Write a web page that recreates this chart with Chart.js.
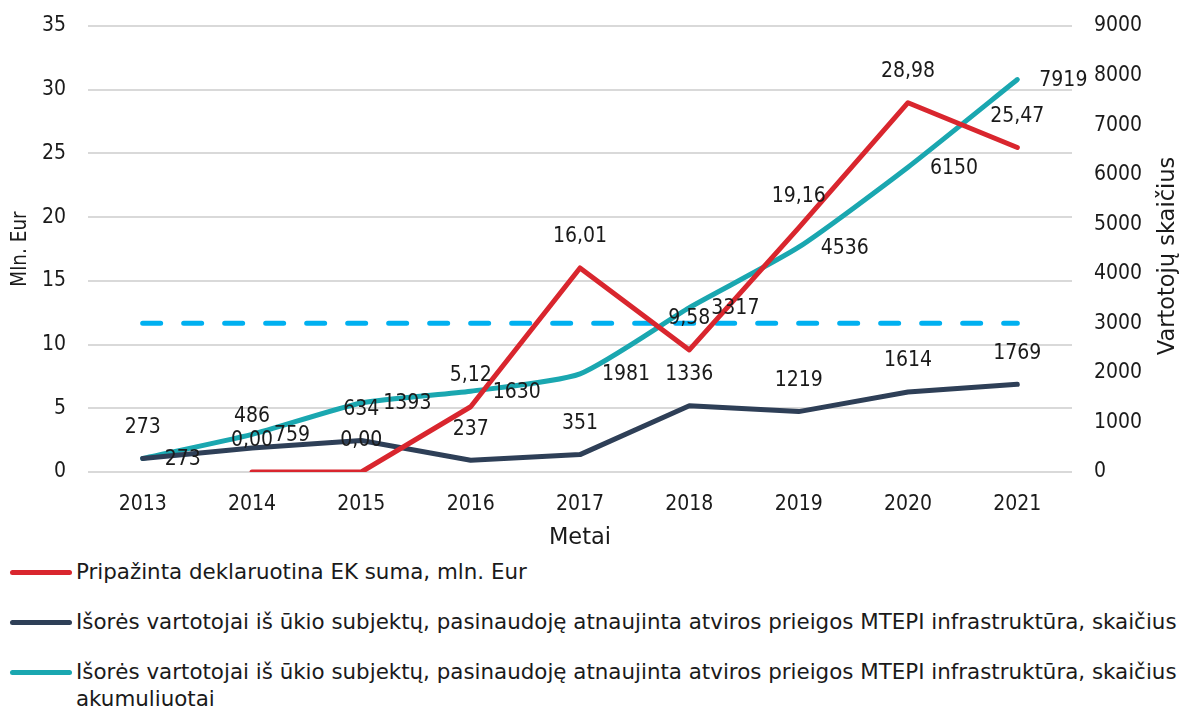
<!DOCTYPE html>
<html>
<head>
<meta charset="utf-8">
<script src="https://cdn.jsdelivr.net/npm/chart.js@4"></script>
<style>
  html, body { margin: 0; padding: 0; background: #fff; }
  body { width: 1180px; height: 708px; position: relative; overflow: hidden;
         font-family: "DejaVu Sans Condensed", "DejaVu Sans", sans-serif; color: #1a1a1a; }
  #wrap { position: absolute; left: 0; top: 0; width: 1180px; height: 555px; }
  #legend { position: absolute; left: 10px; top: 558px; width: 1170px; font-size: 21.4px;
            font-family: "DejaVu Sans", sans-serif; }
  .row { display: flex; align-items: flex-start; margin-bottom: 23px; line-height: 27px; }
  .swatch { flex: 0 0 62px; height: 5px; border-radius: 3px; margin-top: 12px; margin-right: 4px; }
</style>
</head>
<body>
<div id="wrap"><canvas id="chart"></canvas></div>
<div id="legend"></div>
<script>
const years = ['2013', '2014', '2015', '2016', '2017', '2018', '2019', '2020', '2021'];
const ecSum = [null, 0, 0, 5.12, 16.01, 9.58, 19.16, 28.98, 25.47];
const usersYearly = [273, 486, 634, 237, 351, 1336, 1219, 1614, 1769];
const usersCumulative = [273, 759, 1393, 1630, 1981, 3317, 4536, 6150, 7919];
const targetLine = [3000, 3000, 3000, 3000, 3000, 3000, 3000, 3000, 3000];

const seriesNames = [
  'Pripažinta deklaruotina EK suma, mln. Eur',
  'Išorės vartotojai iš ūkio subjektų, pasinaudoję atnaujinta atviros prieigos MTEPI infrastruktūra, skaičius',
  'Išorės vartotojai iš ūkio subjektų, pasinaudoję atnaujinta atviros prieigos MTEPI infrastruktūra, skaičius akumuliuotai'
];
const colors = ['#d9262e', '#2e3f57', '#1aa7b0'];
const rightTitle = 'Vartotojų skaičius';

const FONT = '"DejaVu Sans Condensed", "DejaVu Sans", sans-serif';
const WIDE = '"DejaVu Sans", sans-serif';
Chart.defaults.font.family = FONT;
Chart.defaults.color = '#1a1a1a';

// draws the value labels next to each point (no datalabels plugin available)
const pointLabels = {
  id: 'pointLabels',
  afterDatasetsDraw(chart) {
    const ctx = chart.ctx;
    ctx.save();
    ctx.font = '21px ' + FONT;
    ctx.fillStyle = '#1a1a1a';
    ctx.textBaseline = 'middle';
    chart.data.datasets.forEach((ds, i) => {
      if (!ds.labelPos) return;
      const meta = chart.getDatasetMeta(i);
      meta.data.forEach((pt, j) => {
        const v = ds.data[j];
        if (v == null) return;
        const txt = ds.fmt(v);
        if (ds.labelPos === 'right') {
          ctx.textAlign = 'left';
          ctx.fillText(txt, pt.x + 22, pt.y + 1);
        } else {
          ctx.textAlign = 'center';
          ctx.fillText(txt, pt.x, pt.y - 31);
        }
      });
    });
    // right axis title reads bottom-to-top like the left one
    ctx.translate(1168, 256);
    ctx.rotate(-Math.PI / 2);
    ctx.font = '22.5px ' + WIDE;
    ctx.textAlign = 'center';
    ctx.fillText(rightTitle, 0, 0);
    ctx.restore();
  }
};

const comma2 = v => v.toFixed(2).replace('.', ',');
const whole = v => String(v);

new Chart(document.getElementById('chart'), {
  type: 'line',
  data: {
    labels: years,
    datasets: [
      {
        label: seriesNames[0], data: ecSum, yAxisID: 'y',
        borderColor: colors[0], borderWidth: 5, tension: 0,
        labelPos: 'top', fmt: comma2
      },
      {
        label: seriesNames[1], data: usersYearly, yAxisID: 'y1',
        borderColor: colors[1], borderWidth: 5, tension: 0,
        labelPos: 'top', fmt: whole
      },
      {
        label: seriesNames[2], data: usersCumulative, yAxisID: 'y1',
        borderColor: colors[2], borderWidth: 5, tension: 0.2,
        labelPos: 'right', fmt: whole
      },
      {
        label: 'target', data: targetLine, yAxisID: 'y1',
        borderColor: '#00b0f0', borderWidth: 5, borderDash: [18, 23],
        borderCapStyle: 'round'
      }
    ]
  },
  options: {
    responsive: true,
    maintainAspectRatio: false,
    animation: false,
    layout: { padding: { top: 26, left: 0, right: 0, bottom: 0 } },
    elements: {
      point: { radius: 0, hoverRadius: 0 },
      line: { borderCapStyle: 'round', borderJoinStyle: 'round' }
    },
    plugins: { legend: { display: false }, tooltip: { enabled: false } },
    scales: {
      x: {
        offset: true,
        grid: { display: false, drawTicks: false },
        border: { display: false },
        ticks: { padding: 20, font: { size: 21 } },
        title: { display: true, text: 'Metai', font: { family: WIDE, size: 22.5 }, padding: { top: 0, bottom: 3 } },
        afterFit: s => { s.height = 83; }
      },
      y: {
        position: 'left', min: 0, max: 35,
        ticks: { stepSize: 5, padding: 22, font: { size: 21 } },
        grid: { color: '#d9d9d9', lineWidth: 2, drawTicks: false },
        border: { display: false },
        title: { display: true, text: 'Mln. Eur', font: { size: 20.5 }, padding: { top: 8, bottom: 0 } },
        afterFit: s => { s.width = 88; s.paddingTop = 0; s.paddingBottom = 0; }
      },
      y1: {
        position: 'right', min: 0, max: 9000,
        ticks: { stepSize: 1000, padding: 22, font: { size: 21 }, callback: v => String(v) },
        grid: { display: false, drawTicks: false },
        border: { display: false },
        afterFit: s => { s.width = 108; s.paddingTop = 0; s.paddingBottom = 0; }
      }
    }
  },
  plugins: [pointLabels]
});

// legend below the chart, as in the original
const legend = document.getElementById('legend');
seriesNames.forEach((name, i) => {
  const row = document.createElement('div');
  row.className = 'row';
  const sw = document.createElement('span');
  sw.className = 'swatch';
  sw.style.background = colors[i];
  const txt = document.createElement('span');
  txt.textContent = name;
  row.appendChild(sw);
  row.appendChild(txt);
  legend.appendChild(row);
});
</script>
</body>
</html>
